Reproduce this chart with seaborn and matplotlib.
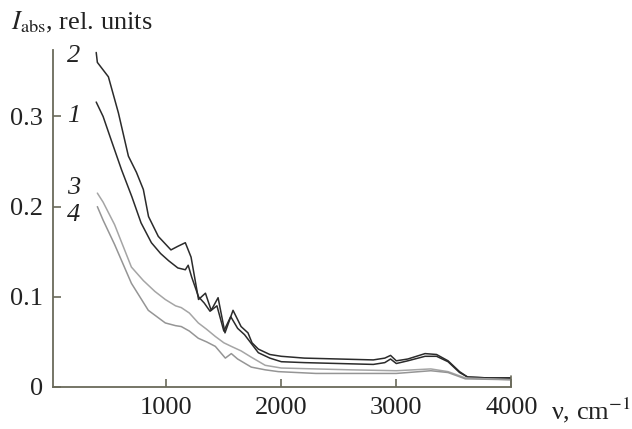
import matplotlib
matplotlib.use("Agg")
import matplotlib.pyplot as plt
import pandas as pd
import seaborn as sns

# ── Data (wavenumber, cm^-1 / absorbance, rel. units) ──
nu_1 = [390, 450, 520, 610, 700, 780, 870, 950, 1020, 1100, 1165, 1190, 1220, 1280,
        1330, 1380, 1440, 1500, 1560, 1620, 1680, 1740, 1800, 1900, 2000, 2200,
        2500, 2800, 2900, 2950, 3000, 3100, 3250, 3350, 3450, 3550, 3620, 3800, 4000]
I_1 = [0.316, 0.300, 0.274, 0.241, 0.211, 0.182, 0.160, 0.148, 0.140, 0.132, 0.130,
       0.135, 0.122, 0.100, 0.093, 0.084, 0.090, 0.062, 0.078, 0.065, 0.058, 0.048,
       0.038, 0.032, 0.028, 0.027, 0.026, 0.025, 0.027, 0.031, 0.026, 0.029, 0.034,
       0.034, 0.028, 0.016, 0.011, 0.010, 0.010]

nu_2 = [390, 400, 496, 583, 670, 740, 800, 845, 930, 1040, 1100, 1165, 1215, 1280,
        1340, 1390, 1450, 1510, 1580, 1650, 1710, 1745, 1800, 1900, 2000, 2200,
        2500, 2800, 2900, 2950, 3000, 3100, 3250, 3350, 3450, 3550, 3620, 3800, 4000]
I_2 = [0.371, 0.360, 0.344, 0.304, 0.256, 0.238, 0.219, 0.189, 0.167, 0.152, 0.156,
       0.160, 0.144, 0.097, 0.104, 0.085, 0.099, 0.060, 0.085, 0.067, 0.060, 0.049,
       0.042, 0.036, 0.034, 0.032, 0.031, 0.030, 0.032, 0.035, 0.029, 0.031, 0.037,
       0.036, 0.029, 0.017, 0.011, 0.010, 0.010]

nu_3 = [400, 450, 550, 696, 800, 900, 991, 1080, 1130, 1200, 1278, 1350, 1426,
        1500, 1565, 1650, 1739, 1860, 2000, 2300, 2600, 3000, 3300, 3450, 3600, 4000]
I_3 = [0.215, 0.205, 0.180, 0.133, 0.118, 0.106, 0.097, 0.090, 0.088, 0.082, 0.071,
       0.064, 0.056, 0.049, 0.045, 0.040, 0.033, 0.024, 0.021, 0.020, 0.019, 0.018,
       0.020, 0.017, 0.010, 0.008]

nu_4 = [400, 450, 550, 696, 843, 991, 1080, 1130, 1200, 1278, 1350, 1426, 1513,
        1565, 1620, 1739, 1860, 1974, 2300, 2600, 3000, 3300, 3450, 3600, 4000]
I_4 = [0.200, 0.185, 0.158, 0.115, 0.085, 0.071, 0.068, 0.067, 0.062, 0.054, 0.050,
       0.045, 0.032, 0.037, 0.031, 0.022, 0.019, 0.017, 0.015, 0.015, 0.015, 0.018,
       0.016, 0.009, 0.008]

curve_ids = ["1", "2", "3", "4"]
curve_colors = {"1": "#2b2b2b", "2": "#2b2b2b", "3": "#a5a5a5", "4": "#959595"}
# where the curve numbers sit (x in cm^-1, y in rel. units)
label_x = 195
label_y = [0.300, 0.367, 0.221, 0.191]

df = pd.concat([
    pd.DataFrame({"nu": nu, "I": I, "curve": cid})
    for cid, nu, I in zip(curve_ids, [nu_1, nu_2, nu_3, nu_4], [I_1, I_2, I_3, I_4])
])

# ── Style ────────────────────────────────────────────────────────────────────
sns.set_style("ticks")
plt.rcParams["font.family"] = ["Liberation Serif", "DejaVu Serif"]
plt.rcParams["mathtext.fontset"] = "stix"

fig = plt.figure(figsize=(6.32, 4.29), dpi=100)
ax = fig.add_axes([0.084, 0.098, 0.725, 0.786])

sns.lineplot(data=df, x="nu", y="I", hue="curve", palette=curve_colors,
             units="curve", estimator=None, sort=False, linewidth=1.1,
             legend=False, ax=ax)

ax.set_xlim(15, 4000)
ax.set_ylim(0, 0.374)
ax.set_xticks([1000, 2000, 3000, 4000])
ax.set_xticklabels(["1000", "2000", "3000", "4000"])
ax.set_yticks([0, 0.1, 0.2, 0.3])
ax.set_yticklabels(["0", "0.1", "0.2", "0.3"])
ax.tick_params(direction="in", length=6, width=1.2, color="#6a6a5a",
               labelsize=19, labelcolor="#222222", pad=7)
ax.set_xlabel("")
ax.set_ylabel("")

for side in ["top", "right"]:
    ax.spines[side].set_visible(False)
for side in ["left", "bottom"]:
    ax.spines[side].set_color("#6a6a5a")
    ax.spines[side].set_linewidth(1.3)
# end tick at right end of x axis
ax.plot([4000, 4000], [0, 0.012], color="#6a6a5a", lw=1.2, clip_on=False)

# curve numbers
for cid, yv in zip(curve_ids, label_y):
    ax.text(label_x, yv, cid, fontsize=19, style="italic", ha="center",
            va="center", color="#222222")

fig.text(0.018, 0.948, r"$I_{\mathrm{abs}}$, rel. units", fontsize=19, color="#222222",
         ha="left", va="center")
fig.text(0.872, 0.043, "ν, cm$^{-1}$", fontsize=19, color="#222222",
         ha="left", va="center")

fig.savefig("out.png", dpi=100)
